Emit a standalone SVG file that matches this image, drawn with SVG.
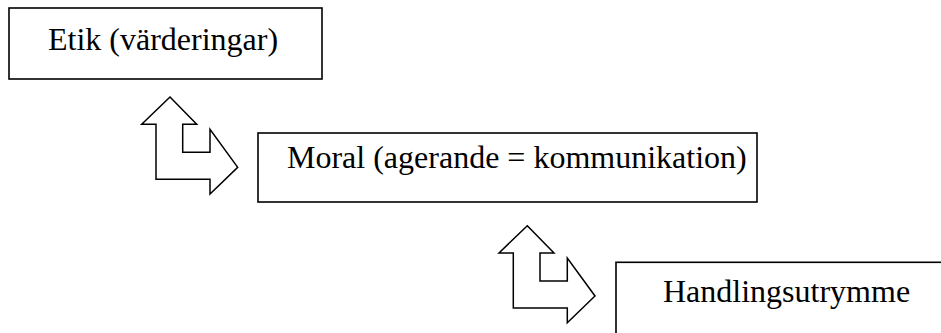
<svg xmlns="http://www.w3.org/2000/svg" width="941" height="333" viewBox="0 0 941 333">
<style>
.box{fill:#fff;stroke:#000;stroke-width:1.6}
.lbl{font-family:"Liberation Serif","Times New Roman",serif;font-size:32px;fill:#000}
.arr{fill:#fff;stroke:#000;stroke-width:1.5;stroke-linejoin:miter}
</style>
<defs>
<polygon id="lr" points="170,97 196.7,124.3 182.7,124.3 182.7,152.3 210,152.3 210,129.3 237.7,167.3 210,194 210,179.3 156,179.3 156,124.3 141.7,124.3"/>
</defs>
<g id="etik">
<rect class="box" x="9" y="8" width="313" height="71"/>
<text class="lbl" x="48" y="50">Etik (värderingar)</text>
</g>
<g id="moral">
<rect class="box" x="258" y="133" width="499" height="69"/>
<text class="lbl" x="287" y="168">Moral (agerande = kommunikation)</text>
</g>
<g id="handlingsutrymme">
<rect class="box" x="616" y="262.3" width="340" height="90"/>
<text class="lbl" x="663" y="302">Handlingsutrymme</text>
</g>
<g id="connectors">
<use href="#lr" class="arr"/>
<use href="#lr" class="arr" transform="translate(357.3,128.7)"/>
</g>
</svg>
